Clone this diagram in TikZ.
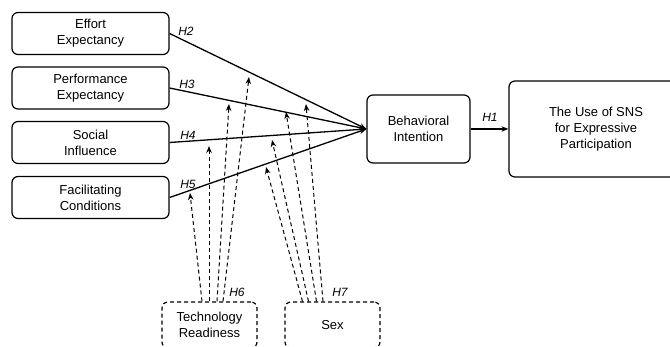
\documentclass[tikz,border=0pt]{standalone}
\usepackage{fontspec}
\setmainfont{Liberation Sans}
\usetikzlibrary{arrows.meta}
\tikzset{ b/.style = { draw
                       , line width      = 1.2pt
                       , rounded corners = 6pt
                       , align           = center
                       , font            = \fontsize{13}{16}\selectfont
                       },
          m/.style = { b
                     , dash pattern = on 4pt off 3pt
                     },
          h/.style = { font = \fontsize{12}{14}\selectfont\itshape
                     },
         ar/.style = { line width = 1.3pt
                     , -{Stealth[length=7pt, width=5.5pt]}
                     },
         dd/.style = { ar
                     , line width   = 1pt
                     , dash pattern = on 4pt off 3pt
                     }
        }
\begin{document}
\begin{tikzpicture}[x=1pt, y=-1pt]
    \useasboundingbox (0,0) rectangle (670,347);
    \clip (0,0) rectangle (670,347);
    \foreach \n/\y/\t in {ee/33.5/Effort\\Expectancy, pe/88/Performance\\Expectancy,
                          si/142.5/Social\\Influence, fc/197.5/Facilitating\\Conditions} {
      \node[b, minimum width=157pt, minimum height=42pt] (\n) at (90.5,\y) {\t};
    }
    \node[b, minimum width=103pt, minimum height=68pt] (bi) at (418.5,129) {Behavioral\\Intention};
    \node[b, minimum width=174pt, minimum height=96pt] (sns) at (596,129)
         {The Use of SNS\\for Expressive\\Participation};
    \node[m, minimum width=95pt, minimum height=46pt] (tr) at (209.5,325) {Technology\\Readiness};
    \node[m, minimum width=95pt, minimum height=46pt] (sx) at (332.5,325) {Sex};
    % hypothesis labels
    \foreach \l/\x/\y in {H1/490/117, H2/186/31, H3/187/84, H4/188/135, H5/188/184,
                          H6/237/292, H7/340/292} {
      \node[h] (\l) at (\x,\y) {\l};
    }
    \foreach \n in {ee,pe,si,fc} {
      \draw[ar] (\n.east) -- (bi.west);
    }
    \draw[ar] (bi) -- (sns);
    % moderator arrow tips
    \foreach \c/\x/\y in {t5/190/193, t4/209/146, t3/229/104, t2/249/77,
                          s5/266/167, s4/272/140, s3/286/112, s2/306/104} {
      \coordinate (\c) at (\x,\y);
    }
    \foreach \dx/\c in {-7.5/t5, -0.5/t4, 7.5/t3, 13.5/t2} {
      \draw[dd] ([xshift=\dx pt]tr.north) -- (\c);
    }
    \foreach \dx/\c in {-30/s5, -24/s4, -16/s3, -9.5/s2} {
      \draw[dd] ([xshift=\dx pt]sx.north) -- (\c);
    }
  \end{tikzpicture}
\end{document}
